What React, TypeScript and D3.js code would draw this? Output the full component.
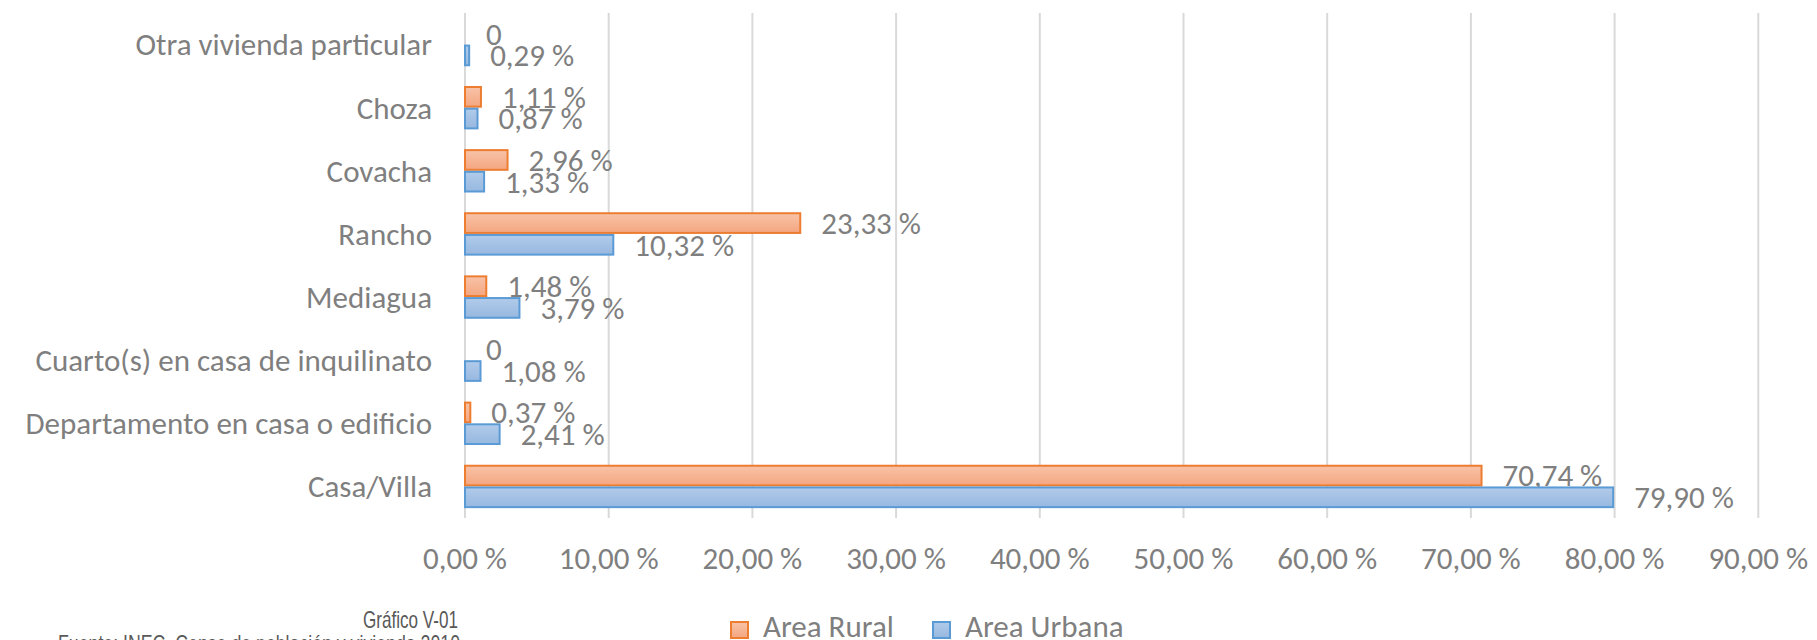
import React from "react";
import * as d3 from "d3";

const categories = [
  "Otra vivienda particular",
  "Choza",
  "Covacha",
  "Rancho",
  "Mediagua",
  "Cuarto(s) en casa de inquilinato",
  "Departamento en casa o edificio",
  "Casa/Villa",
];
const rural = [0, 1.11, 2.96, 23.33, 1.48, 0, 0.37, 70.74];
const urbana = [0.29, 0.87, 1.33, 10.32, 3.79, 1.08, 2.41, 79.9];
const ticks = [0, 10, 20, 30, 40, 50, 60, 70, 80, 90];
const seriesNames = ["Area Rural", "Area Urbana"];

const W = 1817;
const H = 640;
const FONT = "Calibri, Carlito, Lato, sans-serif";
const TXT = "#7f7f7f";
const FS = 31;

const fmt = (v: number) => (v === 0 ? "0" : v.toFixed(2).replace(".", ",") + " %");

export default function App() {
  const x = d3.scaleLinear().domain([0, 90]).range([465, 1758.3]);
  const y = d3
    .scaleBand<string>()
    .domain(categories)
    .range([13, 518])
    .paddingInner(0.3125)
    .paddingOuter(0.15625);
  const inner = d3.scaleBand<string>().domain(["r", "u"]).range([0, y.bandwidth()]);
  const bh = inner.bandwidth();

  const series = [
    { key: "r", vals: rural, stroke: "#ed7d31", grad: "gOr" },
    { key: "u", vals: urbana, stroke: "#5b9bd5", grad: "gBl" },
  ];

  return (
    <svg
      width={W}
      height={H}
      style={{ position: "absolute", left: 0, top: 0, background: "#fff" }}
      fontFamily={FONT}
    >
      <defs>
        <linearGradient id="gOr" x1="0" y1="0" x2="0" y2="1">
          <stop offset="0" stopColor="#f8c3a8" />
          <stop offset="1" stopColor="#f4a680" />
        </linearGradient>
        <linearGradient id="gBl" x1="0" y1="0" x2="0" y2="1">
          <stop offset="0" stopColor="#b1cbea" />
          <stop offset="1" stopColor="#97b8e0" />
        </linearGradient>
      </defs>
      {ticks.map((t) => (
        <line key={"g" + t} x1={x(t)} x2={x(t)} y1={13} y2={518} stroke="#d9d9d9" strokeWidth={2} />
      ))}
      {ticks.map((t) => (
        <text key={"t" + t} x={x(t)} y={569} textAnchor="middle" fontSize={FS} fill={TXT}>
          {t.toFixed(2).replace(".", ",") + " %"}
        </text>
      ))}
      {categories.map((c) => (
        <text
          key={"c" + c}
          x={432}
          y={(y(c) as number) + y.bandwidth() / 2}
          dy="0.35em"
          textAnchor="end"
          fontSize={FS}
          fill={TXT}
        >
          {c}
        </text>
      ))}
      {series.map((s) =>
        categories.map((c, i) => {
          const v = s.vals[i];
          const y0 = (y(c) as number) + (inner(s.key) as number);
          const w = x(v) - x(0);
          return (
            <g key={s.key + c}>
              {v > 0 && (
                <rect
                  x={x(0)}
                  y={y0 + 1}
                  width={w}
                  height={bh - 2}
                  fill={`url(#${s.grad})`}
                  stroke={s.stroke}
                  strokeWidth={2}
                />
              )}
              <text x={x(v) + 21} y={y0 + bh / 2} dy="0.35em" fontSize={FS} fill={TXT}>
                {fmt(v)}
              </text>
            </g>
          );
        })
      )}
      {/* legend */}
      <rect x={731} y={622} width={17} height={16} fill="url(#gOr)" stroke="#ed7d31" strokeWidth={2} />
      <text x={763} y={637} fontSize={FS} fill={TXT}>
        {seriesNames[0]}
      </text>
      <rect x={933} y={622} width={17} height={16} fill="url(#gBl)" stroke="#5b9bd5" strokeWidth={2} />
      <text x={965} y={637} fontSize={FS} fill={TXT}>
        {seriesNames[1]}
      </text>
      {/* caption */}
      <text
        x={458}
        y={628}
        textAnchor="end"
        fontSize={24}
        fill="#595959"
        fontFamily="'Liberation Sans Narrow', 'Liberation Sans', Arial, sans-serif"
        textLength={95}
        lengthAdjust="spacingAndGlyphs"
      >
        Gráfico V-01
      </text>
      <text
        x={460}
        y={652}
        textAnchor="end"
        fontSize={24}
        fill="#595959"
        fontFamily="'Liberation Sans Narrow', 'Liberation Sans', Arial, sans-serif"
        textLength={402}
        lengthAdjust="spacingAndGlyphs"
      >
        Fuente: INEC. Censo de población y vivienda 2010
      </text>
    </svg>
  );
}
